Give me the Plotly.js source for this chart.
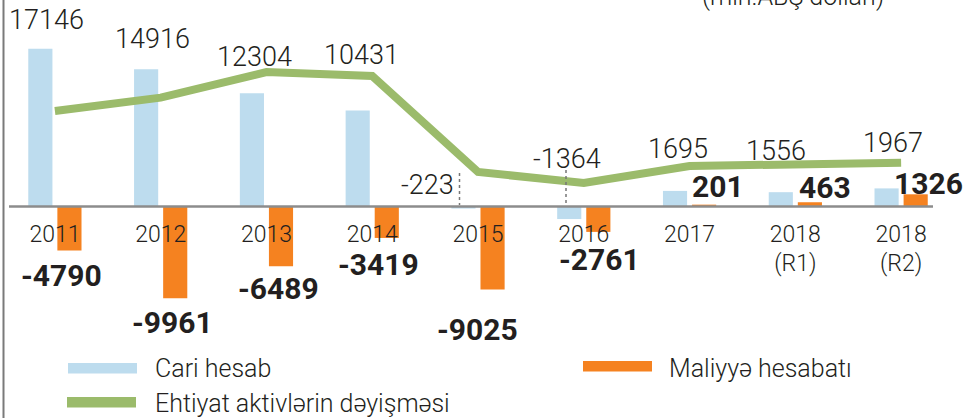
<!DOCTYPE html>
<html>
<head>
<meta charset="utf-8">
<script src="https://cdn.plot.ly/plotly-3.0.1.min.js"></script>
<style>html,body{margin:0;padding:0;background:#fff;}#chart{width:963px;height:418px;}</style>
</head>
<body>
<div id="chart"></div>
<script>
// ---- data ----
const categories = ["2011","2012","2013","2014","2015","2016","2017","2018<br>(R1)","2018<br>(R2)"];
const cariHesab = [17146, 14916, 12304, 10431, -223, -1364, 1695, 1556, 1967];
const maliyyeHesabati = [-4790, -9961, -6489, -3419, -9025, -2761, 201, 463, 1326];
const ehtiyatAktivleri = [10380, 11830, 14620, 14190, 3750, 2550, 4400, 4590, 4760];
const seriesNames = ["Cari hesab", "Maliyyə hesabatı", "Ehtiyat aktivlərin dəyişməsi"];
const unitTitle = "(mln.ABŞ dolları)";

// ---- styling / layout ----
const W = 963, H = 418;
const FONT = "Roboto, 'DejaVu Sans', sans-serif";
const TXT = "#231f20";
const BLUE = "#bddcee", ORANGE = "#f58220", GREEN = "#9bbb6b";
const px = x => x / W;
const py = y => 1 - y / H;

// label offsets (pixels) relative to each category / value
const blueShift = [[-8,29],[-8,30],[-12,36],[-11,56],[-51,24],[-17,60],[-12,42],[-19,41],[-8,45]];
const orangeShift = [[7,-25],[12,-24],[12,-22],[6,-27],[-1,-40],[16,-28],[28,18],[30,15],[27,11]];

const traces = [
  {type: "bar", name: seriesNames[0], x: categories, y: cariHesab, marker: {color: BLUE}, hoverinfo: "skip"},
  {type: "bar", name: seriesNames[1], x: categories, y: maliyyeHesabati, marker: {color: ORANGE}, hoverinfo: "skip"},
  {type: "scatter", mode: "lines", name: seriesNames[2], x: categories, y: ehtiyatAktivleri,
   line: {color: GREEN, width: 8}, hoverinfo: "skip"}
];

const annotations = [];
cariHesab.forEach((v, i) => annotations.push({
  x: i, y: v, xref: "x", yref: "y", text: String(v), showarrow: false,
  xanchor: "center", yanchor: "middle", xshift: blueShift[i][0], yshift: blueShift[i][1],
  font: {family: FONT, size: 27, color: TXT, weight: 300}
}));
maliyyeHesabati.forEach((v, i) => annotations.push({
  x: i, y: v, xref: "x", yref: "y", text: "<b>" + v + "</b>", showarrow: false,
  xanchor: "center", yanchor: "middle", xshift: orangeShift[i][0], yshift: orangeShift[i][1],
  font: {family: FONT, size: 30, color: TXT}
}));
// unit title (partly cut at top, as in the source)
annotations.push({x: px(793), y: 1, xref: "paper", yref: "paper", yshift: 4, text: unitTitle,
  showarrow: false, xanchor: "center", yanchor: "middle", font: {family: FONT, size: 25, color: TXT, weight: 300}});
// legend
const legendItems = [
  {name: seriesNames[0], color: BLUE, sx: 68, sy: 363, tx: 153, ty: 368},
  {name: seriesNames[1], color: ORANGE, sx: 583, sy: 361, tx: 667, ty: 368},
  {name: seriesNames[2], color: GREEN, sx: 67, sy: 397, tx: 153, ty: 403}
];
const shapes = [];
legendItems.forEach(it => {
  annotations.push({x: px(it.tx), y: py(it.ty), xref: "paper", yref: "paper", text: it.name, showarrow: false,
    xanchor: "left", yanchor: "middle", font: {family: FONT, size: 25, color: TXT, weight: 300}});
  shapes.push({type: "rect", xref: "paper", yref: "paper", x0: px(it.sx), x1: px(it.sx + 69),
    y0: py(it.sy), y1: py(it.sy + 10.5), fillcolor: it.color, line: {width: 0}});
});
// left border line
shapes.push({type: "line", xref: "paper", yref: "paper", x0: px(3.5), x1: px(3.5), y0: 0, y1: 1,
  line: {color: "#7a7a7a", width: 2}});
// baseline
shapes.push({type: "line", xref: "paper", yref: "y", x0: px(9), x1: px(933), y0: 0, y1: 0,
  line: {color: "#8c8c8c", width: 2.5}});
// dotted leader lines
shapes.push({type: "line", xref: "paper", yref: "paper", x0: px(459.5), x1: px(459.5), y0: py(173), y1: py(205),
  line: {color: "#777", width: 1.5, dash: "dot"}});
shapes.push({type: "line", xref: "paper", yref: "paper", x0: px(566), x1: px(566), y0: py(170), y1: py(205),
  line: {color: "#777", width: 1.5, dash: "dot"}});

const zeroPx = 206.5, unitsPerPx = 108.7;
const layout = {
  width: W, height: H,
  margin: {l: 0, r: 0, t: 0, b: 0, pad: 0},
  paper_bgcolor: "#fff", plot_bgcolor: "rgba(0,0,0,0)",
  showlegend: false,
  barmode: "group", bargap: 0.45, bargroupgap: 0.17,
  xaxis: {
    type: "category", range: [-0.519, 8.585], anchor: "free", position: 1 - zeroPx / H,
    showline: false, showgrid: false, zeroline: false, ticks: "",
    tickfont: {family: FONT, size: 23, color: TXT, weight: 300}, ticklabelstandoff: 11, fixedrange: true
  },
  yaxis: {
    range: [-(H - zeroPx) * unitsPerPx, zeroPx * unitsPerPx],
    visible: false, showgrid: false, zeroline: false, fixedrange: true
  },
  annotations: annotations,
  shapes: shapes
};

Plotly.newPlot("chart", traces, layout, {staticPlot: true, displayModeBar: false});
</script>
</body>
</html>
